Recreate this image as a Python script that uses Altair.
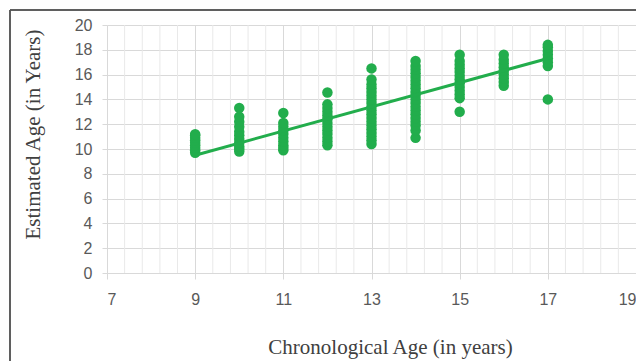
import altair as alt
import pandas as pd

# Scatter data: chronological age (x) vs estimated age (y)
age_9 = [9.7, 9.9, 10.1, 10.3, 10.5, 10.7, 10.9, 11.1, 11.2]
age_10 = [9.8, 10.0, 10.2, 10.5, 10.8, 11.1, 11.4, 11.8, 12.2, 12.6, 13.3]
age_11 = [9.9, 10.1, 10.3, 10.6, 10.9, 11.2, 11.5, 11.8, 12.1, 12.9]
age_12 = [10.3, 10.6, 10.9, 11.2, 11.5, 11.8, 12.1, 12.4, 12.7, 13.0, 13.3, 13.6, 14.55]
age_13 = [10.4, 10.7, 11.0, 11.3, 11.6, 11.9, 12.2, 12.5, 12.8, 13.1, 13.4, 13.7,
          14.0, 14.3, 14.6, 14.9, 15.2, 15.6, 16.5]
age_14 = [10.9, 11.5, 11.9, 12.2, 12.5, 12.8, 13.1, 13.4, 13.7, 14.0, 14.3, 14.6,
          14.9, 15.2, 15.5, 15.8, 16.1, 16.4, 16.7, 17.1]
age_15 = [13.0, 14.1, 14.4, 14.7, 15.0, 15.3, 15.6, 15.9, 16.2, 16.5, 16.8, 17.1, 17.6]
age_16 = [15.1, 15.4, 15.7, 16.0, 16.3, 16.6, 16.9, 17.2, 17.6]
age_17 = [14.0, 16.7, 17.0, 17.3, 17.6, 17.9, 18.2, 18.4]

columns = {9: age_9, 10: age_10, 11: age_11, 12: age_12, 13: age_13,
           14: age_14, 15: age_15, 16: age_16, 17: age_17}

# Trend line endpoints
trend_x = [9, 17]
trend_y = [9.5, 17.3]

# Axis ticks
x_ticks = [7, 9, 11, 13, 15, 17, 19]
y_ticks = [0, 2, 4, 6, 8, 10, 12, 14, 16, 18, 20]
x_minor = [7.4, 7.8, 8.2, 8.6, 9.4, 9.8, 10.2, 10.6, 11.4, 11.8, 12.2, 12.6,
           13.4, 13.8, 14.2, 14.6, 15.4, 15.8, 16.2, 16.6, 17.4, 17.8, 18.2, 18.6]

pts = pd.DataFrame([{"x": k, "y": v} for k, vals in columns.items() for v in vals])
trend = pd.DataFrame({"x": trend_x, "y": trend_y})
minor = pd.DataFrame({"x": x_minor})

GREEN = "#22AD4C"
W, H = 529, 248

xscale = alt.Scale(domain=[7, 19], nice=False, zero=False)
yscale = alt.Scale(domain=[0, 20], nice=False)

xaxis = alt.Axis(values=x_ticks, title="Chronological Age (in years)", grid=True,
                 gridColor="#d9d9d9", domainColor="#d9d9d9", tickColor="#d9d9d9",
                 tickSize=6, labelPadding=12, labelFont="Liberation Sans",
                 labelFontSize=16, labelColor="#595959", titleFont="Liberation Serif",
                 titleFontSize=21, titleFontWeight="normal", titleColor="#404040",
                 titleX=283, titleY=80, titleBaseline="alphabetic", titleAlign="center",
                 labelOverlap=False)
yaxis = alt.Axis(values=y_ticks, title="Estimated Age (in Years)", grid=True,
                 gridColor="#d9d9d9", domain=False, tickColor="#d9d9d9",
                 tickSize=5, labelPadding=10, labelFont="Liberation Sans",
                 labelFontSize=16, labelColor="#595959", titleFont="Liberation Serif",
                 titleFontSize=21, titleFontWeight="normal", titleColor="#404040",
                 titleX=-74, titleY=109, titleBaseline="middle", titleAlign="center",
                 titleAngle=-90)

minor_grid = alt.Chart(minor).mark_rule(color="#e9e9e9", strokeWidth=1).encode(
    x=alt.X("x:Q", scale=xscale, axis=xaxis),
    y=alt.value(0), y2=alt.value(H)
)

points = alt.Chart(pts).mark_circle(size=110, color=GREEN, opacity=1).encode(
    x=alt.X("x:Q", scale=xscale, axis=xaxis),
    y=alt.Y("y:Q", scale=yscale, axis=yaxis),
)

line = alt.Chart(trend).mark_line(color=GREEN, strokeWidth=3).encode(
    x=alt.X("x:Q", scale=xscale, axis=xaxis),
    y=alt.Y("y:Q", scale=yscale, axis=yaxis),
)

frame_top = alt.Chart(trend).mark_rule(color="#555555", strokeWidth=1.5).encode(
    x=alt.value(-97), x2=alt.value(W), y=alt.value(-15)
)
frame_left = alt.Chart(trend).mark_rule(color="#555555", strokeWidth=1.5).encode(
    x=alt.value(-97), y=alt.value(-15), y2=alt.value(H + 90)
)

chart = alt.layer(minor_grid, points, line, frame_top, frame_left).properties(
    width=W, height=H,
    autosize=alt.AutoSizeParams(type="none"),
    padding={"left": 99, "top": 17, "right": 0, "bottom": 88},
    background="white",
).configure_view(stroke=None)

chart.save("out.html", embed_options={"renderer": "svg", "actions": False})
